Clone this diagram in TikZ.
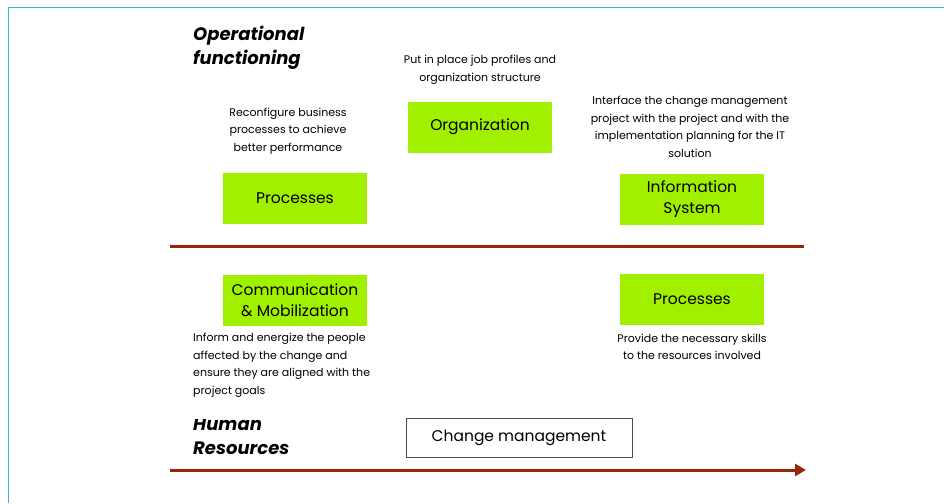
\documentclass[tikz,border=0pt]{standalone}
\usepackage{fontspec}
\setmainfont{Poppins}
\usetikzlibrary{arrows.meta}

\definecolor{limebox}{RGB}{160,240,0}
\definecolor{rustline}{RGB}{150,38,12}
\definecolor{framecol}{RGB}{60,180,205}

\tikzset{
  lever/.style={fill=limebox,minimum width=144pt,minimum height=51pt,inner sep=0pt,
    align=center,font=\fontsize{15.5}{21}\selectfont},
  note/.style={align=center,inner sep=1pt,font=\fontsize{11}{17.5}\selectfont},
  side/.style={align=left,anchor=north west,inner sep=0pt,
    font=\fontsize{18}{24}\selectfont\bfseries\itshape},
  axis/.style={draw=rustline,line width=3pt}
}

\begin{document}
\begin{tikzpicture}[x=1pt,y=-1pt]
\useasboundingbox (0,0) rectangle (944,503);
\draw[framecol,line width=1.5pt](8.5,503)--(8.5,7.5)--(944,7.5);

% upper half: operational functioning
\node[side] (opfun) at (193,26) {Operational\\functioning};
\node[note] (orgtxt) at (480,70) {Put in place job profiles and\\organization structure};
\node[lever] (org) at (480,127) {Organization};
\node[note] (proctxt) at (288,131) {Reconfigure business\\processes to achieve\\better performance};
\node[lever] (proc) at (295,198.5) {Processes};
\node[note] (istxt) at (690,127) {Interface the change management\\project with the project and with the\\implementation planning for the IT\\solution};
\node[lever] (is) at (692,199.5) {Information\\System};
\coordinate (opstart) at (170,246);
\coordinate (opend) at (804,246);
\draw[axis](opstart)--(opend);

% lower half: human resources
\node[side] (hres) at (193,418) {Human\\Resources};
\node[note,anchor=north west,align=left,fill=white,inner xsep=2pt,inner ysep=22pt] (comtxt) at (191,311)
  {Inform and energize the people\\affected by the change and\\ensure they are aligned with the\\project goals};
\node[lever] (com) at (295,300) {Communication\\\& Mobilization};
\node[lever] (proc2) at (692,299) {Processes};
\node[note] (skilltxt) at (692,347) {Provide the necessary skills\\to the resources involved};
\node[draw=black!70,fill=white,minimum width=226pt,minimum height=39pt,inner sep=0pt,
  font=\fontsize{15.5}{18}\selectfont] (cm) at (519,437.5) {Change management};
\coordinate (hrstart) at (170,470);
\coordinate (hrend) at (806,470);
\draw[axis,-{Triangle[length=11pt,width=12pt]}](hrstart)--(hrend);
\end{tikzpicture}
\end{document}
